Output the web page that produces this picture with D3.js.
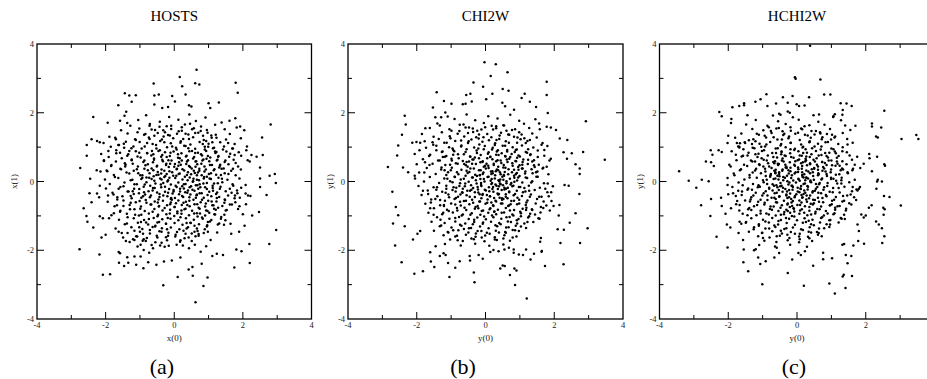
<!DOCTYPE html>
<html>
<head>
<meta charset="utf-8">
<script src="https://cdn.jsdelivr.net/npm/d3@7"></script>
<style>
  html, body { margin: 0; padding: 0; background: #fff; }
  svg { display: block; font-family: 'Liberation Serif', 'Times New Roman', serif; }
</style>
</head>
<body>
<div id="chart"></div>
<script>
// three scatter panels
const titles = ['HOSTS', 'CHI2W', 'HCHI2W'];
const xLabels = ['x(0)', 'y(0)', 'y(0)'];
const yLabels = ['x(1)', 'y(1)', 'y(1)'];
const subLabels = ['(a)', '(b)', '(c)'];
const majorTicks = [-4, -2, 0, 2, 4];
const minorTicks = [-3, -1, 1, 3];

// (a) HOSTS - sparse outer points
const hostsOuter = [
  [0.65,3.25],[0.16,3.04],[-0.60,2.85],[0.61,2.86],[0.73,2.82],[0.23,2.77],[1.79,2.87],[1.85,2.58],[-1.44,2.57],[-1.31,2.50],
  [-1.12,2.51],[-0.58,2.50],[-0.45,2.53],[-0.06,2.49],[0.33,2.53],[-1.63,2.22],[-1.24,2.32],[-0.58,2.24],[-0.35,2.14],[-0.18,2.17],
  [0.02,2.33],[0.43,2.22],[0.50,2.18],[1.00,2.28],[1.05,2.14],[1.30,2.30],[-2.36,1.88],[2.81,1.66],[-1.94,1.71],[-2.74,0.39],
  [-2.55,1.06],[-2.55,0.75],[-2.41,1.23],[-2.45,0.08],[2.93,0.22],[2.78,0.17],[2.58,0.77],[2.56,1.28],[2.50,0.41],[2.04,1.49],
  [2.12,1.02],[1.78,1.84],[1.61,1.77],[1.82,1.57],[1.92,1.60],[1.94,1.26],[2.10,0.91],[2.14,0.62],[2.20,0.58],[2.25,0.77],
  [2.40,0.72],[1.94,0.35],[2.50,0.09],[1.69,0.96],[1.76,0.77],[-2.25,1.18],[-2.17,1.14],[-2.06,1.12],[-2.13,0.80],[-2.05,0.62],
  [-1.89,1.30],[-1.70,1.23],[-1.63,1.06],[-1.92,0.89],[-2.15,0.29],[-2.26,0.33],[-1.95,0.30],[-1.69,0.91],[-1.58,1.77],[-1.45,1.91],
  [-1.37,1.70],[-1.40,2.03],
  [0.62,-3.51],[-0.32,-3.02],[0.85,-3.04],[0.97,-2.79],[0.10,-2.78],[0.54,-2.74],[0.42,-2.56],[0.53,-2.49],[-2.08,-2.71],[-1.87,-2.70],
  [-2.76,-1.97],[-2.18,-2.12],[-1.61,-2.36],[-1.46,-2.46],[-1.34,-2.36],[-1.11,-2.42],[-0.90,-2.52],[-0.76,-2.35],[-0.52,-2.42],[-0.30,-2.33],
  [-0.07,-2.30],[0.18,-2.21],[0.80,-2.39],[1.24,-2.10],[1.42,-2.14],[1.75,-2.50],[1.81,-1.98],[1.96,-2.03],[2.20,-2.37],[2.19,-1.82],
  [2.77,-1.82],[2.97,-1.41],[2.69,-0.39],[2.47,-0.89],[-2.64,-0.78],[-2.56,-1.00],[-2.53,-1.17],[-2.36,-1.34],[-2.12,-1.63],[-2.00,-1.55],
  [-2.17,-1.01],[-2.08,-1.07],[-2.47,-0.34],[-2.41,-0.60],[-2.25,-0.35],[-2.19,-0.46],[-1.62,-2.05],[-1.58,-2.09],[-1.37,-2.20],[-1.16,-2.18],
  [-0.98,-2.18],[-0.89,-1.99],[-0.73,-2.07],[2.09,-0.66],[2.00,-0.95],[2.27,-0.99],[2.05,-1.29],[1.89,-1.46],[1.66,-1.52],[1.64,-1.23],
  [1.90,-0.72],[1.77,-0.41],[2.22,-0.42],[2.15,-0.41],[2.50,-0.16],[2.96,-0.04],[2.08,-0.10],[2.08,-0.35],[-2.17,-0.12],[-1.93,-0.41],
  [-1.90,-1.07],[-1.76,-0.92],[-1.62,-1.46],[-1.53,-1.50],[-1.41,-1.73],[-1.20,-1.68],[-1.16,-1.70],[-1.08,-1.60],[-0.98,-1.84],[-0.83,-1.73],
  [-0.62,-1.94],[-0.41,-1.86],[-0.37,-1.78],[-0.16,-1.87],[0.07,-1.84],[0.43,-1.94],[0.60,-1.84],[0.77,-2.04],[1.11,-2.17],[0.71,-1.53],
  [0.98,-1.46],[1.25,-1.48],[1.45,-1.26],[1.06,-1.70]
];

// (a) HOSTS - core
const hostsCore = [
  [-0.82,1.93],[-0.15,1.88],[0.44,1.95],[0.91,1.86],
  [-1.05,1.79],[-0.42,1.74],[0.12,1.80],[0.63,1.76],[1.38,1.72],
  [-1.28,1.62],[-0.71,1.67],[-0.22,1.61],[0.31,1.66],[0.78,1.60],[1.19,1.65],
  [-1.55,1.49],[-1.02,1.54],[-0.56,1.50],[-0.09,1.53],[0.22,1.48],[0.57,1.55],[0.95,1.50],[1.47,1.52],
  [-1.36,1.40],[-0.88,1.36],[-0.48,1.41],[-0.18,1.35],[0.08,1.39],[0.41,1.37],[0.70,1.42],[1.08,1.34],[1.62,1.38],
  [-1.72,1.27],[-1.14,1.23],[-0.74,1.28],[-0.36,1.22],[-0.03,1.26],[0.26,1.24],[0.55,1.29],[0.86,1.21],[1.23,1.27],[1.51,1.22],
  [-1.47,1.10],[-1.01,1.15],[-0.63,1.09],[-0.29,1.14],[-0.10,1.11],[0.18,1.13],[0.47,1.08],[0.74,1.15],[1.00,1.10],[1.34,1.14],[1.76,1.09],
  [-1.85,1.01],[-1.25,0.97],[-0.86,1.02],[-0.52,0.96],[-0.21,1.00],[0.05,0.98],[0.33,1.03],[0.61,0.95],[0.89,1.01],[1.13,0.97],[1.45,1.02],[1.71,0.96],
  [-1.58,0.84],[-1.12,0.88],[-0.79,0.83],[-0.46,0.89],[-0.27,0.85],[-0.02,0.87],[0.21,0.82],[0.44,0.88],[0.69,0.84],[0.93,0.89],[1.20,0.83],[1.52,0.87],[1.88,0.85],
  [-1.91,0.71],[-1.37,0.75],[-0.98,0.70],[-0.67,0.76],[-0.38,0.72],[-0.13,0.74],[0.11,0.69],[0.36,0.75],[0.58,0.71],[0.81,0.76],[1.05,0.70],[1.29,0.74],[1.60,0.72],[1.95,0.75],
  [-1.70,0.58],[-1.24,0.62],[-0.90,0.57],[-0.59,0.63],[-0.33,0.59],[-0.08,0.61],[0.14,0.56],[0.40,0.62],[0.62,0.58],[0.85,0.64],[1.02,0.59],[1.24,0.61],[1.47,0.57],[1.73,0.63],[-2.05,0.60],
  [-1.84,0.45],[-1.42,0.49],[-1.06,0.44],[-0.77,0.50],[-0.50,0.46],[-0.24,0.48],[0.00,0.43],[0.19,0.49],[0.43,0.45],[0.67,0.50],[0.88,0.44],[1.10,0.48],[1.33,0.46],[1.58,0.50],[1.86,0.44],[-0.12,0.52],
  [-1.97,0.32],[-1.55,0.36],[-1.18,0.31],[-0.87,0.37],[-0.61,0.33],[-0.37,0.35],[-0.14,0.30],[0.07,0.36],[0.29,0.32],[0.51,0.38],[0.73,0.31],[0.92,0.35],[1.15,0.33],[1.38,0.37],[1.66,0.31],[0.40,0.27],[-0.48,0.28],
  [-1.76,0.19],[-1.31,0.23],[-0.99,0.18],[-0.72,0.24],[-0.46,0.20],[-0.22,0.22],[-0.03,0.17],[0.16,0.23],[0.37,0.19],[0.60,0.25],[0.80,0.18],[1.01,0.22],[1.22,0.20],[1.47,0.24],[1.79,0.18],[0.95,0.14],[-0.60,0.15],
  [-2.02,0.06],[-1.63,0.10],[-1.22,0.05],[-0.93,0.11],[-0.66,0.07],[-0.41,0.09],[-0.18,0.04],[0.03,0.10],[0.24,0.06],[0.45,0.12],[0.66,0.05],[0.86,0.09],[1.07,0.07],[1.29,0.11],[1.55,0.05],[1.90,0.09],[-0.29,0.13],[0.55,0.01],
  [-1.88,-0.07],[-1.45,-0.03],[-1.09,-0.08],[-0.81,-0.02],[-0.55,-0.06],[-0.32,-0.04],[-0.10,-0.09],[0.12,-0.03],[0.33,-0.07],[0.54,-0.01],[0.74,-0.08],[0.95,-0.04],[1.16,-0.06],[1.40,-0.02],[1.70,-0.08],[-0.20,0.00],[0.63,-0.11],[-0.70,-0.12],
  [-1.99,-0.20],[-1.57,-0.16],[-1.17,-0.21],[-0.89,-0.15],[-0.62,-0.19],[-0.38,-0.17],[-0.15,-0.22],[0.07,-0.16],[0.28,-0.20],[0.49,-0.14],[0.70,-0.21],[0.90,-0.17],[1.12,-0.19],[1.35,-0.15],[1.62,-0.21],[1.95,-0.18],[-0.02,-0.25],[0.40,-0.26],
  [-1.80,-0.33],[-1.36,-0.29],[-1.03,-0.34],[-0.75,-0.28],[-0.50,-0.32],[-0.27,-0.30],[-0.05,-0.35],[0.17,-0.29],[0.38,-0.33],[0.59,-0.27],[0.80,-0.34],[1.02,-0.30],[1.25,-0.32],[1.50,-0.28],[1.84,-0.34],[-0.85,-0.38],[0.66,-0.38],
  [-1.66,-0.46],[-1.27,-0.42],[-0.96,-0.47],[-0.68,-0.41],[-0.43,-0.45],[-0.20,-0.43],[0.02,-0.48],[0.23,-0.42],[0.44,-0.46],[0.65,-0.40],[0.86,-0.47],[1.08,-0.43],[1.31,-0.45],[1.57,-0.41],[1.91,-0.47],[-0.10,-0.51],
  [-1.94,-0.59],[-1.48,-0.55],[-1.12,-0.60],[-0.83,-0.54],[-0.57,-0.58],[-0.33,-0.56],[-0.10,-0.61],[0.12,-0.55],[0.34,-0.59],[0.56,-0.53],[0.77,-0.60],[0.99,-0.56],[1.23,-0.58],[1.48,-0.54],[1.78,-0.60],
  [-1.74,-0.72],[-1.30,-0.68],[-0.97,-0.73],[-0.69,-0.67],[-0.44,-0.71],[-0.21,-0.69],[0.01,-0.74],[0.22,-0.68],[0.45,-0.72],[0.67,-0.66],[0.90,-0.73],[1.14,-0.69],[1.40,-0.71],[1.68,-0.67],
  [-1.57,-0.85],[-1.16,-0.81],[-0.86,-0.86],[-0.58,-0.80],[-0.34,-0.84],[-0.12,-0.82],[0.09,-0.87],[0.30,-0.81],[0.52,-0.85],[0.74,-0.79],[0.97,-0.86],[1.21,-0.82],[1.50,-0.84],[1.86,-0.80],
  [-1.83,-0.98],[-1.38,-0.94],[-1.03,-0.99],[-0.74,-0.93],[-0.47,-0.97],[-0.23,-0.95],[0.00,-1.00],[0.21,-0.94],[0.43,-0.98],[0.66,-0.92],[0.90,-0.99],[1.17,-0.95],[1.46,-0.97],
  [-1.61,-1.11],[-1.18,-1.07],[-0.88,-1.12],[-0.60,-1.06],[-0.35,-1.10],[-0.11,-1.08],[0.12,-1.13],[0.34,-1.07],[0.57,-1.11],[0.81,-1.05],[1.08,-1.12],[1.36,-1.08],
  [-1.44,-1.24],[-1.06,-1.20],[-0.76,-1.25],[-0.49,-1.19],[-0.24,-1.23],[0.01,-1.21],[0.24,-1.26],[0.47,-1.20],[0.72,-1.24],[0.98,-1.18],[1.27,-1.25],
  [-1.71,-1.37],[-1.25,-1.33],[-0.93,-1.38],[-0.63,-1.32],[-0.36,-1.36],[-0.10,-1.34],[0.15,-1.39],[0.40,-1.33],[0.66,-1.37],[0.95,-1.31],
  [-1.36,-1.50],[-1.00,-1.46],[-0.71,-1.51],[-0.43,-1.45],[-0.17,-1.49],[0.08,-1.47],[0.33,-1.52],[0.59,-1.46],[0.86,-1.50],
  [-1.49,-1.63],[-1.11,-1.59],[-0.80,-1.64],[-0.51,-1.58],[-0.24,-1.62],[0.03,-1.60],[0.30,-1.65],[0.62,-1.59],
  [-1.30,-1.76],[-0.92,-1.72],[-0.55,-1.77],[-0.21,-1.71],[0.17,-1.75],[0.51,-1.73],
  [-1.07,-1.89],[-0.66,-1.85],[-0.28,-1.90],[0.25,-1.86],[0.93,-1.88]
];

// (a) HOSTS - extra points filling the dark centre
const hostsFill = [
  [0.37,0.58],[-0.81,0.12],[1.13,-0.27],[0.05,-0.63],[-0.42,0.91],[0.72,0.04],[-1.24,-0.49],[0.19,1.17],[-0.06,0.27],[0.94,0.66],
  [-0.63,-0.88],[0.48,-1.21],[-1.07,0.73],[1.31,0.41],[-0.27,-0.15],[0.63,-0.47],[-0.88,-0.31],[0.11,0.79],[1.02,-0.91],[-0.51,0.44],
  [0.28,-0.08],[-1.39,0.26],[0.83,1.09],[-0.19,-1.06],[0.57,0.31],[-0.72,1.24],[1.46,-0.62],[-0.35,0.63],[0.14,-0.37],[-0.97,-1.18],
  [0.76,-0.17],[-0.58,0.02],[1.19,0.87],[0.33,-0.79],[-1.16,-0.08],[0.02,0.51],[0.88,0.29],[-0.46,-0.52],[0.41,0.97],[-0.84,0.47],
  [1.27,-0.05],[-0.14,0.11],[0.68,-1.02],[-1.31,0.89],[0.24,0.36],[-0.67,-0.67],[1.04,0.48],[-0.31,1.31],[0.53,-0.24],[-0.93,0.18],
  [0.09,-0.92],[0.97,-0.39],[-0.22,0.71],[0.61,0.83],[-1.48,-0.71],[0.31,0.14],[-0.55,-1.29],[1.36,0.19],[-0.09,-0.48],[0.79,0.52],
  [-0.77,0.33],[0.44,-0.56],[-0.38,0.23],[1.11,1.14],[-1.01,-0.57],[0.17,-0.21],[0.66,0.18],[-0.61,0.79],[0.92,-0.64],[-0.16,0.42],
  [0.36,-1.37],[-1.21,0.52],[0.55,0.67],[-0.43,-0.36],[1.22,-0.36],[0.07,0.93],[-0.86,-0.09],[0.71,-0.76],[-0.28,-0.77],[0.22,0.61],
  [-0.53,1.06],[1.49,0.61],[-0.02,-0.29],[0.85,-0.06],[-1.09,0.36],[0.46,0.42],[-0.71,-0.46],[0.27,-0.62],[1.07,0.24],[-0.37,0.06],
  [0.58,-0.93],[-0.95,0.96],[0.13,0.22],[-0.24,-1.23],[0.98,0.74],[-1.33,-0.29],[0.39,0.04],[-0.62,0.56],[0.74,-0.34],[0.04,-0.12],
  [-0.45,-0.73],[1.16,-0.79],[-0.11,0.84],[0.62,0.43],[-0.99,-0.79],[0.34,0.73],[-0.32,-0.41],[0.89,0.93],[-0.73,0.11],[0.18,-1.04],
  [1.28,0.72],[-0.57,-0.19],[0.49,0.21],[-1.14,-0.97],[0.08,0.37],[0.81,-0.53],[-0.41,1.18],[0.67,-0.11],[-0.87,0.61],[0.26,-0.45],
  [-0.12,-0.66],[1.03,0.09],[-0.66,0.38],[0.43,1.24],[-1.27,0.04],[0.59,-0.66],[-0.23,0.52],[0.95,-0.22],[-0.49,-1.01],[0.16,0.68],
  [0.73,0.37],[-0.81,-0.62],[0.32,-0.31],[-0.06,1.02],[1.24,-0.48],[-0.39,-0.09],[0.52,0.89],[-1.05,0.24],[0.87,0.13],[-0.18,-0.33],
  [0.21,-0.84],[-0.65,0.89],[1.09,-0.58],[-0.29,0.31],[0.64,0.59],[-1.18,-0.36],[0.01,-0.74],[0.78,0.79],[-0.52,0.19],[0.45,-0.17],
  [-0.91,-0.43],[0.29,1.04],[1.17,0.36],[-0.13,-0.93],[0.56,0.08],[-0.74,-1.09],[0.12,0.46],[-0.35,0.77],[0.93,-0.84],[-1.43,0.44],
  [0.69,0.26],[-0.07,-0.53],[0.38,-0.68],[-0.59,0.67],[1.33,-0.21],[-0.26,0.16],[0.82,0.61],[-0.96,0.07],[0.23,-0.14],[-0.48,-0.61],
  [0.99,1.01],[-0.17,0.62],[0.47,-0.38],[-0.79,0.82],[0.06,0.17],[1.12,-0.12],[-0.63,-0.26],[0.35,0.51],[-1.02,-0.22],[0.75,-0.93]
];

// (a) HOSTS - extra points in the ring round the centre
const hostsRing = [
  [1.42,0.93],[-1.53,0.68],[0.96,-1.27],[-0.84,1.38],[1.67,-0.33],[-1.62,-0.21],[0.52,1.52],[-0.18,-1.58],[1.21,1.36],[-1.36,-1.04],
  [1.58,0.22],[-1.12,1.21],[0.27,-1.43],[-0.43,1.59],[1.37,-1.03],[-1.73,0.13],[0.84,1.33],[-0.71,-1.41],[1.79,0.54],[-1.46,0.98],
  [0.13,1.46],[-1.02,-1.33],[1.53,-0.83],[-1.66,-0.52],[0.68,-1.44],[-0.27,1.43],[1.09,1.27],[-1.29,-0.81],[1.72,-0.12],[-0.58,1.33],
  [0.42,-1.63],[-1.57,0.37],[1.26,0.63],[-0.91,-1.52],[0.77,1.47],[-1.19,1.02],[1.63,0.81],[-0.37,-1.46],[1.04,-1.16],[-1.77,-0.38],
  [0.33,1.39],[-0.82,-1.19],[1.47,-0.52],[-1.41,1.16],[0.59,-1.29],[-0.09,1.62],[1.31,-1.22],[-1.58,-0.88],[0.93,1.18],[-1.24,0.64],
  [1.83,-0.26],[-0.66,1.51],[0.18,-1.71],[-1.48,-0.14],[1.16,0.98],[-0.49,-1.63],[1.39,0.08],[-1.07,1.43],[0.71,-1.58],[-1.69,0.82],
  [1.57,1.12],[-0.96,-0.97],[0.46,1.68],[-1.38,-1.22],[1.28,-0.76],[-0.21,-1.39],[1.71,0.37],[-1.61,1.06],[0.83,-1.08],[-0.79,1.12],
  [1.49,-1.13],[-1.27,-0.62],[0.04,-1.55],[-0.56,-1.31],[1.11,-0.69],[-1.83,0.48],[0.61,1.41],[-1.16,-1.43],[1.34,0.49],[-0.32,1.49],
  [0.89,-1.39],[-1.51,-0.43],[1.62,-0.67],[-0.72,1.62],[0.22,1.58],[-1.34,0.79],[1.19,-0.96],[-1.02,0.84],[0.51,-1.51],[-1.67,-0.69],
  [1.44,0.38],[-0.44,-1.18],[0.97,1.42],[-1.21,-0.28],[1.76,-0.49],[-0.13,1.34],[0.36,-1.21],[-0.89,-1.68],[1.23,0.86],[-1.44,0.53]
];

// (b) CHI2W - sparse outer points
const chi2wOuter = [
  [-0.03,3.47],[0.30,3.41],[0.15,3.07],[0.64,3.18],[1.78,2.90],[1.78,2.52],[-0.35,2.88],[-0.07,2.76],[0.02,2.39],[-1.42,2.60],
  [-0.56,2.52],[-0.44,2.55],[0.20,2.55],[0.50,2.69],[0.67,2.64],[1.05,2.43],[1.14,2.55],[1.29,2.32],[-1.21,2.34],[-0.99,2.26],
  [-0.66,2.25],[-0.58,2.26],[-0.40,2.33],[0.49,2.29],[0.57,2.19],[0.83,2.09],[1.47,2.17],[1.81,1.99],[2.92,1.75],[-2.35,1.91],
  [-2.32,1.66],[-2.84,0.42],[-2.57,0.76],[-2.54,1.05],[-2.43,1.36],[3.47,0.63],[2.84,0.86],[2.62,0.50],[2.74,0.22],[2.74,0.38],
  [2.51,0.82],[2.38,1.21],[2.16,1.25],[2.05,1.50],[1.90,1.57],[1.78,1.59],[1.56,1.69],[-2.13,1.13],[-2.01,1.15],[-1.90,1.13],
  [-1.75,1.55],[-1.53,2.15],[-1.46,1.87],[-1.29,1.87],[-1.17,2.01],[-1.33,1.63],[-1.73,0.98],[-2.06,0.80],[-2.40,0.41],[-2.25,0.27],
  [-2.06,0.17],[2.37,0.66],[2.27,0.85],
  [1.20,-3.40],[0.86,-3.01],[0.71,-2.72],[0.43,-2.53],[0.50,-2.44],[0.56,-2.46],[0.84,-2.53],[0.90,-2.59],[-0.32,-2.93],[-0.34,-2.65],
  [-1.05,-2.78],[-1.82,-2.61],[-2.07,-2.68],[-2.44,-2.35],[-2.63,-1.86],[-2.69,-1.22],[-2.54,-0.98],[-2.61,-0.74],[-2.71,-0.30],[-2.35,-1.30],
  [-2.11,-1.69],[-1.98,-1.52],[-1.90,-1.44],[-1.61,-2.06],[-1.59,-2.33],[-1.49,-2.49],[2.97,-1.36],[2.75,-1.79],[2.27,-2.41],[1.73,-2.46],
  [2.18,-1.79],[1.63,-2.04],[1.41,-2.10],[1.31,-2.27],[1.09,-2.14],[1.18,-1.98],[2.45,-1.20],[2.62,-0.92],[2.73,-0.36],[2.30,-0.10],
  [2.42,-0.12],[-1.45,-1.88],[-1.33,-2.17],[-1.22,-2.09],[-1.16,-2.14],[-1.09,-2.37],[-0.88,-2.51],[-0.75,-2.32],[2.10,-1.39],[2.28,-1.40],
  [2.13,-0.99],[2.15,-0.68],[1.98,-0.71],[1.87,-0.84],[1.61,-1.64],[1.59,-1.75],[1.64,-2.02],[0.14,-2.05],[0.23,-1.99],[0.38,-2.03],
  [0.55,-1.98],[0.68,-1.93],[0.82,-1.98],[0.82,-2.07],[0.97,-2.12],[-0.46,-2.17],[-0.45,-2.30],[-0.08,-2.25],[-0.20,-2.14]
];

// (b) CHI2W - core
const chi2wCore = [
  [-0.55,1.95],[0.08,1.90],[0.72,1.94],[-1.10,1.89],
  [-0.90,1.82],[-0.30,1.78],[0.35,1.83],[0.98,1.77],[1.45,1.81],
  [-1.40,1.69],[-0.75,1.65],[-0.05,1.70],[0.52,1.64],[1.12,1.68],[0.18,1.62],
  [-1.62,1.56],[-1.05,1.52],[-0.48,1.57],[-0.12,1.51],[0.31,1.55],[0.77,1.50],[1.27,1.56],[1.58,1.52],
  [-1.27,1.43],[-0.81,1.39],[-0.36,1.44],[0.05,1.38],[0.45,1.42],[0.66,1.37],[0.98,1.43],[1.36,1.40],[-1.85,1.38],
  [-1.51,1.30],[-1.02,1.26],[-0.62,1.31],[-0.20,1.25],[0.17,1.29],[0.40,1.24],[0.83,1.30],[1.13,1.26],[1.49,1.28],[-0.41,1.22],
  [-1.77,1.17],[-1.20,1.13],[-0.88,1.18],[-0.51,1.12],[-0.09,1.16],[0.28,1.11],[0.59,1.17],[0.92,1.13],[1.22,1.18],[1.66,1.12],[0.10,1.20],
  [-1.43,1.04],[-1.06,1.00],[-0.70,1.05],[-0.33,0.99],[-0.02,1.03],[0.21,0.98],[0.50,1.04],[0.79,1.00],[1.06,1.05],[1.39,0.99],[1.80,1.03],[-0.18,1.08],
  [-1.92,0.91],[-1.25,0.87],[-0.94,0.92],[-0.58,0.86],[-0.26,0.90],[0.09,0.85],[0.36,0.91],[0.63,0.87],[0.88,0.92],[1.17,0.86],[1.52,0.90],[-0.05,0.94],[0.47,0.82],
  [-1.61,0.78],[-1.14,0.74],[-0.80,0.79],[-0.45,0.73],[-0.14,0.77],[0.14,0.72],[0.31,0.78],[0.57,0.74],[0.76,0.80],[1.00,0.73],[1.30,0.77],[1.71,0.75],[-0.31,0.70],[0.92,0.69],
  [-1.82,0.65],[-1.33,0.61],[-0.99,0.66],[-0.66,0.60],[-0.38,0.64],[-0.08,0.59],[0.20,0.65],[0.44,0.61],[0.69,0.66],[0.87,0.60],[1.10,0.64],[1.41,0.62],[1.90,0.66],[0.05,0.68],[-0.55,0.57],
  [-1.54,0.52],[-1.17,0.48],[-0.86,0.53],[-0.57,0.47],[-0.28,0.51],[-0.01,0.46],[0.24,0.52],[0.53,0.48],[0.78,0.53],[0.99,0.47],[1.23,0.51],[1.55,0.49],[-2.00,0.50],[0.37,0.43],[-0.15,0.56],[0.64,0.57],
  [-1.71,0.39],[-1.29,0.35],[-0.98,0.40],[-0.70,0.34],[-0.44,0.38],[-0.19,0.33],[0.09,0.39],[0.33,0.35],[0.58,0.40],[0.83,0.34],[1.08,0.38],[1.34,0.36],[1.68,0.40],[0.20,0.30],[-0.55,0.31],[0.95,0.42],[-0.05,0.43],
  [-1.93,0.26],[-1.45,0.22],[-1.09,0.27],[-0.79,0.21],[-0.52,0.25],[-0.30,0.20],[-0.06,0.26],[0.17,0.22],[0.42,0.27],[0.66,0.21],[0.91,0.25],[1.15,0.23],[1.47,0.27],[1.83,0.21],[0.54,0.17],[-0.17,0.18],[0.30,0.30],
  [-1.62,0.13],[-1.20,0.09],[-0.90,0.14],[-0.63,0.08],[-0.39,0.12],[-0.15,0.07],[0.06,0.13],[0.27,0.09],[0.49,0.14],[0.71,0.08],[0.95,0.12],[1.21,0.10],[1.52,0.14],[-2.05,0.09],[0.38,0.04],[-0.25,0.16],[0.83,0.17],[0.15,0.02],
  [-1.79,0.00],[-1.35,-0.04],[-1.03,0.01],[-0.74,-0.05],[-0.49,-0.01],[-0.26,-0.06],[-0.03,0.00],[0.19,-0.04],[0.40,0.01],[0.61,-0.05],[0.84,-0.01],[1.07,-0.03],[1.36,0.01],[1.70,-0.05],[0.29,-0.09],[-0.13,-0.10],[0.52,0.05],[0.73,-0.09],
  [-1.95,-0.13],[-1.51,-0.17],[-1.14,-0.12],[-0.85,-0.18],[-0.60,-0.14],[-0.36,-0.19],[-0.12,-0.13],[0.10,-0.17],[0.32,-0.12],[0.55,-0.18],[0.78,-0.14],[1.01,-0.16],[1.26,-0.12],[1.58,-0.18],[1.96,-0.14],[0.20,-0.22],[-0.22,-0.23],[0.44,-0.08],
  [-1.68,-0.26],[-1.26,-0.30],[-0.96,-0.25],[-0.68,-0.31],[-0.45,-0.27],[-0.21,-0.32],[0.01,-0.26],[0.23,-0.30],[0.47,-0.25],[0.69,-0.31],[0.91,-0.27],[1.16,-0.29],[1.43,-0.25],[1.80,-0.31],[0.35,-0.35],[-0.08,-0.36],[0.60,-0.21],
  [-1.86,-0.39],[-1.40,-0.43],[-1.08,-0.38],[-0.80,-0.44],[-0.55,-0.40],[-0.31,-0.45],[-0.09,-0.39],[0.13,-0.43],[0.37,-0.38],[0.59,-0.44],[0.82,-0.40],[1.06,-0.42],[1.32,-0.38],[1.63,-0.44],[0.25,-0.48],[0.48,-0.49],
  [-1.58,-0.52],[-1.18,-0.56],[-0.90,-0.51],[-0.63,-0.57],[-0.39,-0.53],[-0.16,-0.58],[0.06,-0.52],[0.29,-0.56],[0.52,-0.51],[0.75,-0.57],[0.98,-0.53],[1.22,-0.55],[1.50,-0.51],[1.92,-0.57],[0.17,-0.61],
  [-1.75,-0.65],[-1.32,-0.69],[-1.00,-0.64],[-0.72,-0.70],[-0.47,-0.66],[-0.23,-0.71],[0.00,-0.65],[0.22,-0.69],[0.45,-0.64],[0.68,-0.70],[0.92,-0.66],[1.17,-0.68],[1.46,-0.64],[1.77,-0.70],
  [-1.50,-0.78],[-1.12,-0.82],[-0.83,-0.77],[-0.56,-0.83],[-0.31,-0.79],[-0.07,-0.84],[0.14,-0.78],[0.36,-0.82],[0.59,-0.77],[0.83,-0.83],[1.08,-0.79],[1.35,-0.81],[1.68,-0.77],[0.25,-0.88],
  [-1.66,-0.91],[-1.26,-0.95],[-0.95,-0.90],[-0.66,-0.96],[-0.40,-0.92],[-0.15,-0.97],[0.08,-0.91],[0.31,-0.95],[0.54,-0.90],[0.78,-0.96],[1.03,-0.92],[1.30,-0.94],[1.60,-0.90],
  [-1.41,-1.04],[-1.05,-1.08],[-0.77,-1.03],[-0.49,-1.09],[-0.24,-1.05],[0.01,-1.10],[0.23,-1.04],[0.46,-1.08],[0.70,-1.03],[0.96,-1.09],[1.24,-1.05],[1.54,-1.07],
  [-1.57,-1.17],[-1.19,-1.21],[-0.88,-1.16],[-0.59,-1.22],[-0.33,-1.18],[-0.08,-1.23],[0.16,-1.17],[0.40,-1.21],[0.65,-1.16],[0.92,-1.22],[1.22,-1.18],
  [-1.33,-1.30],[-0.99,-1.34],[-0.70,-1.29],[-0.42,-1.35],[-0.16,-1.31],[0.09,-1.36],[0.34,-1.30],[0.60,-1.34],[0.88,-1.29],[1.18,-1.35],
  [-1.50,-1.43],[-1.10,-1.47],[-0.79,-1.42],[-0.50,-1.48],[-0.23,-1.44],[0.04,-1.49],[0.30,-1.43],[0.57,-1.47],[0.86,-1.42],
  [-1.22,-1.56],[-0.88,-1.60],[-0.57,-1.55],[-0.29,-1.61],[-0.01,-1.57],[0.27,-1.62],[0.55,-1.56],[0.90,-1.60],
  [-1.03,-1.69],[-0.66,-1.73],[-0.34,-1.68],[-0.03,-1.74],[0.33,-1.70],[0.71,-1.72],
  [-1.18,-1.82],[-0.72,-1.86],[-0.30,-1.81],[0.11,-1.87],[0.52,-1.83]
];

// (b) CHI2W - extra points filling the dark centre
const chi2wFill = [
  [0.44,0.21],[-0.73,-0.38],[1.08,0.57],[0.12,-0.81],[-0.35,0.64],[0.81,-0.12],[-1.19,0.33],[0.27,1.06],[-0.02,-0.24],[0.66,-0.71],
  [-0.58,0.17],[1.29,-0.44],[-0.91,0.88],[0.39,-0.36],[0.03,0.52],[0.96,0.34],[-0.44,-0.97],[0.58,0.73],[-1.32,-0.54],[0.18,0.07],
  [0.74,-1.18],[-0.21,0.96],[1.17,0.12],[-0.66,-0.21],[0.31,-0.58],[-0.96,-0.02],[0.85,0.86],[-0.12,-0.49],[0.52,0.41],[-0.49,1.17],
  [1.41,0.47],[-0.29,-0.74],[0.16,0.29],[0.93,-0.47],[-0.81,0.52],[0.61,0.01],[-1.07,-0.86],[0.07,0.81],[0.69,-0.29],[-0.37,0.12],
  [1.01,-0.88],[-0.57,-0.56],[0.35,0.62],[-1.24,0.71],[0.22,-0.16],[0.89,0.59],[-0.14,0.33],[0.47,-0.91],[-0.76,-0.13],[1.21,0.84],
  [-0.04,-1.02],[0.77,0.27],[-0.52,0.43],[0.29,-1.27],[-0.88,-0.67],[1.13,-0.19],[0.09,0.14],[-0.31,-0.31],[0.57,1.04],[-1.11,0.08],
  [0.42,-0.06],[-0.63,0.79],[0.98,-0.64],[-0.19,0.68],[0.64,-0.49],[-1.41,-0.17],[0.13,-0.43],[0.84,0.11],[-0.42,-0.11],[0.33,0.87],
  [-0.83,0.27],[1.33,-0.03],[-0.08,0.22],[0.55,-0.23],[-0.69,-0.99],[0.24,0.48],[1.06,0.38],[-0.27,1.29],[0.71,-0.84],[-0.98,0.61],
  [0.05,-0.62],[0.92,0.03],[-0.46,-0.44],[0.37,0.33],[-1.16,-0.33],[0.62,0.64],[-0.23,-0.16],[1.19,-0.61],[-0.55,0.94],[0.19,-0.99],
  [0.79,0.46],[-0.72,0.06],[0.49,-0.64],[-0.11,-0.86],[1.37,0.24],[-0.86,-0.48],[0.28,0.18],[-0.39,0.52],[0.86,-0.36],[0.01,0.38],
  [-1.28,0.41],[0.68,1.13],[-0.61,-0.76],[0.41,-0.47],[0.96,0.76],[-0.17,-0.37],[0.53,0.19],[-0.93,-0.17],[0.14,0.71],[1.09,-0.31],
  [-0.33,-1.11],[0.75,-0.04],[-0.78,0.68],[0.36,-0.22],[-0.05,0.07],[1.24,0.63],[-0.47,0.28],[0.61,-1.04],[-1.03,0.49],[0.23,-0.71],
  [0.88,0.21],[-0.25,0.83],[0.46,0.54],[-0.67,-0.33],[1.03,-1.01],[0.11,-0.28],[-0.89,0.13],[0.67,0.36],[-0.36,-0.62],[0.32,1.21],
  [-1.21,-0.71],[0.83,-0.56],[-0.09,0.57],[0.51,-0.11],[-0.59,-0.06],[1.16,0.29],[0.19,0.93],[-0.74,-0.59],[0.43,0.06],[-0.18,-0.58],
  [0.97,-0.16],[-0.44,0.72],[0.26,-0.87],[-1.01,0.33],[0.72,0.71],[-0.28,0.04],[0.59,-0.37],[-0.82,-0.84],[0.08,0.46],[1.27,-0.27],
  [-0.53,-0.27],[0.38,0.77],[-0.13,-0.04],[0.81,-0.99],[-0.94,0.78],[0.21,0.24],[0.65,-0.18],[-0.62,0.51],[1.07,0.49],[-0.21,-0.78],
  [0.48,-0.53],[-1.14,0.19],[0.17,-0.07],[0.91,0.93],[-0.41,-0.24],[0.56,0.28],[-0.71,1.02],[1.18,-0.83],[0.04,-0.39],[-0.34,0.38],
  [0.73,-0.66],[-0.87,-0.29],[0.31,0.59],[-0.07,-1.19],[0.99,0.16],[-0.48,0.58],[0.39,-0.14],[-1.06,-0.46],[0.63,0.92],[-0.16,0.19]
];

// (b) CHI2W - extra points in the ring round the centre
const chi2wRing = [
  [1.52,0.71],[-1.43,0.91],[1.03,-1.31],[-0.76,1.47],[1.74,-0.21],[-1.67,-0.36],[0.61,1.48],[-0.11,-1.63],[1.29,1.21],[-1.31,-1.11],
  [1.66,0.38],[-1.04,1.32],[0.39,-1.48],[-0.37,1.54],[1.44,-0.96],[-1.78,0.26],[0.93,1.28],[-0.63,-1.38],[1.86,0.61],[-1.52,1.07],
  [0.22,1.51],[-0.94,-1.42],[1.61,-0.74],[-1.59,-0.61],[0.79,-1.41],[-0.19,1.37],[1.17,1.12],[-1.23,-0.91],[1.81,-0.06],[-0.51,1.41],
  [0.52,-1.66],[-1.63,0.48],[1.36,0.58],[-0.83,-1.58],[0.86,1.52],[-1.13,1.13],[1.71,0.92],[-0.28,-1.51],[1.13,-1.22],[-1.82,-0.27],
  [0.41,1.34],[-0.74,-1.26],[1.56,-0.44],[-1.36,1.24],[0.67,-1.33],[-0.01,1.58],[1.39,-1.18],[-1.51,-0.97],[1.02,1.23],[-1.18,0.72],
  [1.91,-0.31],[-0.58,1.57],[0.27,-1.69],[-1.43,-0.24],[1.24,0.94],[-0.41,-1.66],[1.48,0.14],[-0.99,1.48],[0.79,-1.63],[-1.64,0.74],
  [1.63,1.07],[-0.88,-1.06],[0.54,1.63],[-1.29,-1.28],[1.36,-0.83],[-0.12,-1.44],[1.78,0.43],[-1.54,1.14],[0.91,-1.13],[-0.71,1.19],
  [1.57,-1.08],[-1.21,-0.68],[0.12,-1.52],[-0.48,-1.36],[1.19,-0.76],[-1.76,0.56],[0.69,1.36],[-1.08,-1.48],[1.43,0.42],[-0.24,1.48],
  [0.97,-1.44],[-1.46,-0.51],[1.69,-0.58],[-0.64,1.66],[0.31,1.61],[-1.27,0.86],[1.27,-1.01],[-0.96,0.96],[0.59,-1.49],[-1.61,-0.78],
  [1.51,0.29],[-0.37,-1.24],[1.05,1.37],[-1.14,-0.21],[1.84,-0.43],[-0.06,1.29],[0.44,-1.24],[-0.81,-1.71],[1.31,0.79],[-1.38,0.61]
];

// (c) HCHI2W - sparse outer points
const hchi2wOuter = [
  [0.38,3.95],[-0.06,3.03],[-0.04,2.99],[0.68,2.97],[0.79,2.53],[0.97,2.53],[-0.89,2.54],[-1.06,2.39],[-0.41,2.45],[-0.13,2.49],
  [0.35,2.45],[-1.54,2.28],[-1.54,2.22],[-1.68,2.20],[-1.88,2.16],[-1.21,2.32],[-0.86,2.20],[-0.61,2.27],[-0.27,2.29],[-0.01,2.25],
  [0.06,2.20],[0.22,2.21],[1.27,2.28],[1.44,2.27],[1.59,2.20],[1.33,2.08],[1.32,1.94],[1.10,1.96],[1.06,1.90],[2.54,2.06],
  [-2.26,2.02],[-2.19,1.90],[-1.91,1.82],[-1.92,1.70],[-1.44,1.93],[-0.52,1.97],[-0.48,1.94],[-0.27,2.04],[-0.21,2.00],[0.64,1.95],
  [1.70,1.62],[2.18,1.69],[2.18,1.60],[2.45,1.57],[2.30,1.31],[2.35,1.28],[3.04,1.24],[3.47,1.35],[3.53,1.24],[-2.00,1.33],
  [-2.02,1.12],[-2.51,0.91],[-2.46,0.78],[-2.28,0.91],[-2.19,0.86],[-2.65,0.58],[-2.50,0.56],[-2.42,0.45],[-3.43,0.30],[-3.15,0.02],
  [-2.77,0.05],[-2.57,0.01],[2.10,0.80],[2.11,0.68],[2.33,0.72],[2.54,0.50],[2.56,0.46],[1.94,0.52],[1.84,0.39],[2.18,0.30],
  [2.35,0.05],[-1.75,1.12],[-1.68,0.99],[-1.66,1.11],[-1.40,1.20],[-1.31,1.09],
  [1.10,-3.26],[0.94,-2.97],[0.20,-3.03],[-1.01,-2.99],[1.41,-3.10],[1.33,-2.76],[1.36,-2.71],[1.60,-2.75],[-0.27,-2.66],[-1.42,-2.61],
  [-1.56,-2.35],[-2.02,-1.92],[-2.34,-1.61],[-2.52,-1.00],[-2.79,-0.69],[-2.50,-0.51],[-2.93,-0.18],[-2.21,-0.47],[-2.19,-0.71],[-2.02,-0.10],
  [-2.00,-0.37],[-2.08,-0.94],[-1.92,-0.78],[-2.04,-1.25],[-1.94,-1.34],[-1.67,-1.17],[-1.62,-1.23],[-1.70,-1.50],[-1.57,-1.70],[-1.55,-1.98],
  [-1.25,-2.00],[-1.20,-1.97],[-1.13,-2.21],[-1.07,-2.40],[-0.91,-2.32],[-0.66,-2.21],[-0.52,-2.08],[-0.59,-1.93],[-0.14,-2.27],[0.04,-2.08],
  [0.11,-2.14],[0.23,-2.03],[0.47,-2.45],[0.76,-2.07],[0.76,-2.26],[1.02,-2.23],[1.42,-2.14],[1.47,-2.38],[1.58,-2.17],[1.32,-1.84],
  [1.37,-1.82],[1.64,-1.86],[1.78,-1.73],[1.95,-1.81],[2.48,-1.79],[2.54,-1.59],[2.30,-1.16],[2.38,-1.25],[2.47,-1.36],[2.52,-0.97],
  [2.55,-0.81],[2.51,-0.76],[3.02,-0.70],[2.69,-0.45],[2.53,-0.42],[2.31,-0.21],[2.17,-0.69],[2.09,-0.76],[2.00,-0.99],[1.94,-1.05],
  [1.87,-0.96],[1.76,-1.25],[1.80,-1.44],[2.47,0.00],[2.33,0.00],[1.83,-0.16],[1.76,-0.26]
];

// (c) HCHI2W - core
const hchi2wCore = [
  [-0.70,1.92],[-0.12,1.87],[0.48,1.93],[1.05,1.88],
  [-1.20,1.79],[-0.55,1.75],[0.05,1.80],[0.62,1.74],[1.28,1.78],
  [-1.48,1.66],[-0.86,1.62],[-0.33,1.67],[0.22,1.61],[0.80,1.65],[1.40,1.63],
  [-1.30,1.53],[-0.98,1.49],[-0.60,1.54],[-0.18,1.48],[0.15,1.52],[0.55,1.47],[0.96,1.53],[1.55,1.50],
  [-1.62,1.40],[-1.11,1.36],[-0.74,1.41],[-0.40,1.35],[-0.05,1.39],[0.31,1.34],[0.68,1.40],[1.02,1.36],[1.33,1.41],
  [-1.80,1.27],[-1.27,1.23],[-0.90,1.28],[-0.57,1.22],[-0.25,1.26],[0.08,1.21],[0.40,1.27],[0.72,1.23],[1.09,1.28],[1.46,1.24],
  [-1.52,1.14],[-1.09,1.10],[-0.78,1.15],[-0.46,1.09],[-0.18,1.13],[0.12,1.08],[0.36,1.14],[0.61,1.10],[0.90,1.15],[1.20,1.09],[1.62,1.13],
  [-1.68,1.01],[-1.24,0.97],[-0.93,1.02],[-0.62,0.96],[-0.33,1.00],[-0.06,0.95],[0.18,1.01],[0.44,0.97],[0.71,1.02],[1.00,0.96],[1.33,1.00],[-0.48,1.05],
  [-1.90,0.88],[-1.41,0.84],[-1.02,0.89],[-0.72,0.83],[-0.45,0.87],[-0.20,0.82],[0.04,0.88],[0.29,0.84],[0.55,0.89],[0.82,0.83],[1.10,0.87],[1.45,0.85],[-0.08,0.92],
  [-1.57,0.75],[-1.15,0.71],[-0.85,0.76],[-0.58,0.70],[-0.33,0.74],[-0.10,0.69],[0.14,0.75],[0.37,0.71],[0.63,0.76],[0.90,0.70],[1.21,0.74],[1.75,0.72],[-0.46,0.79],[0.25,0.66],
  [-1.76,0.62],[-1.30,0.58],[-0.97,0.63],[-0.69,0.57],[-0.44,0.61],[-0.21,0.56],[0.02,0.62],[0.24,0.58],[0.48,0.63],[0.73,0.57],[1.00,0.61],[1.32,0.59],[1.60,0.63],[-0.56,0.52],[0.12,0.53],
  [-1.97,0.49],[-1.45,0.45],[-1.10,0.50],[-0.81,0.44],[-0.55,0.48],[-0.31,0.43],[-0.08,0.49],[0.15,0.45],[0.38,0.50],[0.61,0.44],[0.86,0.48],[1.12,0.46],[1.44,0.50],[-0.19,0.40],[0.50,0.39],[-0.66,0.53],
  [-1.63,0.36],[-1.22,0.32],[-0.93,0.37],[-0.66,0.31],[-0.42,0.35],[-0.19,0.30],[0.04,0.36],[0.27,0.32],[0.50,0.37],[0.74,0.31],[0.99,0.35],[1.27,0.33],[1.63,0.37],[-0.30,0.39],[0.15,0.27],[-0.52,0.27],[0.62,0.24],
  [-1.84,0.23],[-1.38,0.19],[-1.05,0.24],[-0.77,0.18],[-0.52,0.22],[-0.29,0.17],[-0.07,0.23],[0.15,0.19],[0.38,0.24],[0.61,0.18],[0.86,0.22],[1.13,0.20],[1.48,0.24],[-0.40,0.13],[0.03,0.28],[0.27,0.12],[-0.63,0.27],
  [-2.02,0.10],[-1.53,0.06],[-1.17,0.11],[-0.88,0.05],[-0.63,0.09],[-0.40,0.04],[-0.17,0.10],[0.05,0.06],[0.27,0.11],[0.49,0.05],[0.73,0.09],[0.99,0.07],[1.30,0.11],[1.68,0.05],[-0.28,0.01],[0.16,0.14],[-0.51,0.15],[0.39,-0.01],
  [-1.70,-0.03],[-1.28,-0.07],[-0.97,-0.02],[-0.71,-0.08],[-0.48,-0.04],[-0.25,-0.09],[-0.03,-0.03],[0.19,-0.07],[0.41,-0.02],[0.64,-0.08],[0.89,-0.04],[1.17,-0.06],[1.52,-0.02],[-0.14,-0.12],[0.30,-0.13],[-0.60,-0.11],[0.08,0.02],
  [-1.88,-0.16],[-1.42,-0.20],[-1.08,-0.15],[-0.81,-0.21],[-0.57,-0.17],[-0.34,-0.22],[-0.12,-0.16],[0.10,-0.20],[0.32,-0.15],[0.55,-0.21],[0.79,-0.17],[1.05,-0.19],[1.38,-0.15],[1.80,-0.21],[-0.23,-0.25],[0.21,-0.26],[-0.45,-0.12],
  [-1.60,-0.29],[-1.20,-0.33],[-0.91,-0.28],[-0.65,-0.34],[-0.42,-0.30],[-0.20,-0.35],[0.02,-0.29],[0.24,-0.33],[0.46,-0.28],[0.70,-0.34],[0.95,-0.30],[1.24,-0.32],[1.60,-0.28],[-0.31,-0.38],[0.13,-0.39],[-0.53,-0.25],
  [-1.78,-0.42],[-1.33,-0.46],[-1.01,-0.41],[-0.74,-0.47],[-0.51,-0.43],[-0.28,-0.48],[-0.06,-0.42],[0.16,-0.46],[0.38,-0.41],[0.61,-0.47],[0.86,-0.43],[1.13,-0.45],[1.46,-0.41],[-0.17,-0.51],[0.27,-0.52],[-0.62,-0.51],
  [-1.51,-0.55],[-1.13,-0.59],[-0.86,-0.54],[-0.61,-0.60],[-0.38,-0.56],[-0.16,-0.61],[0.07,-0.55],[0.29,-0.59],[0.52,-0.54],[0.76,-0.60],[1.02,-0.56],[1.32,-0.58],[1.72,-0.54],[-0.27,-0.64],[0.40,-0.65],
  [-1.67,-0.68],[-1.25,-0.72],[-0.95,-0.67],[-0.68,-0.73],[-0.44,-0.69],[-0.21,-0.74],[0.01,-0.68],[0.23,-0.72],[0.46,-0.67],[0.70,-0.73],[0.96,-0.69],[1.24,-0.71],[1.58,-0.67],[-0.10,-0.78],
  [-1.42,-0.81],[-1.06,-0.85],[-0.79,-0.80],[-0.54,-0.86],[-0.31,-0.82],[-0.08,-0.87],[0.14,-0.81],[0.36,-0.85],[0.59,-0.80],[0.84,-0.86],[1.11,-0.82],[1.42,-0.84],[-0.20,-0.91],
  [-1.58,-0.94],[-1.18,-0.98],[-0.89,-0.93],[-0.62,-0.99],[-0.38,-0.95],[-0.15,-1.00],[0.07,-0.94],[0.30,-0.98],[0.53,-0.93],[0.78,-0.99],[1.06,-0.95],[1.37,-0.97],
  [-1.33,-1.07],[-0.99,-1.11],[-0.72,-1.06],[-0.47,-1.12],[-0.23,-1.08],[0.00,-1.13],[0.22,-1.07],[0.45,-1.11],[0.70,-1.06],[0.97,-1.12],[1.30,-1.08],
  [-1.49,-1.20],[-1.11,-1.24],[-0.82,-1.19],[-0.55,-1.25],[-0.30,-1.21],[-0.06,-1.26],[0.17,-1.20],[0.41,-1.24],[0.67,-1.19],[0.96,-1.25],
  [-1.25,-1.33],[-0.92,-1.37],[-0.63,-1.32],[-0.37,-1.38],[-0.12,-1.34],[0.12,-1.39],[0.37,-1.33],[0.64,-1.37],[0.94,-1.32],
  [-1.40,-1.46],[-1.02,-1.50],[-0.72,-1.45],[-0.44,-1.51],[-0.18,-1.47],[0.08,-1.52],[0.34,-1.46],[0.63,-1.50],
  [-1.13,-1.59],[-0.80,-1.63],[-0.50,-1.58],[-0.22,-1.64],[0.06,-1.60],[0.36,-1.65],[0.72,-1.59],
  [-0.95,-1.72],[-0.60,-1.76],[-0.27,-1.71],[0.06,-1.77],[0.44,-1.73],
  [-1.10,-1.85],[-0.64,-1.89],[-0.20,-1.84],[0.29,-1.90]
];

// (c) HCHI2W - extra points filling the dark centre
const hchi2wFill = [
  [-0.33,0.41],[0.52,-0.27],[-0.91,0.16],[0.18,0.83],[-0.12,-0.57],[0.79,0.38],[-1.27,-0.41],[0.04,0.08],[-0.56,0.97],[0.96,-0.69],
  [-0.41,-0.18],[0.33,0.29],[-1.03,0.68],[0.66,-0.04],[-0.19,1.12],[0.21,-0.91],[-0.77,-0.73],[1.18,0.52],[-0.06,0.46],[0.47,-0.53],
  [-0.63,0.24],[0.11,-0.22],[-1.38,0.12],[0.71,0.77],[-0.27,-0.86],[0.39,0.03],[-0.84,0.53],[1.04,-0.31],[-0.15,0.18],[0.26,0.62],
  [-0.52,-0.44],[0.87,0.16],[-1.12,-0.11],[0.09,-0.68],[-0.36,0.76],[0.58,0.49],[-0.71,-0.26],[1.29,-0.06],[-0.02,-0.37],[0.34,-1.14],
  [-0.96,0.91],[0.63,0.21],[-0.22,-0.03],[0.14,0.37],[-0.47,-0.97],[0.92,0.61],[-1.19,0.37],[0.28,-0.41],[-0.68,0.07],[0.51,1.02],
  [-0.09,-0.79],[0.74,-0.48],[-0.39,0.58],[-1.33,-0.83],[0.19,0.12],[0.98,0.27],[-0.58,-0.61],[0.42,0.79],[-0.87,-0.07],[0.06,0.64],
  [1.11,-0.76],[-0.25,0.33],[0.59,-0.16],[-1.06,-0.53],[0.23,-0.06],[-0.44,1.22],[0.81,0.54],[-0.74,0.39],[0.36,-0.74],[-0.13,-0.24],
  [1.23,0.21],[-0.99,0.04],[0.15,-0.47],[-0.31,-0.41],[0.69,0.93],[-0.61,0.83],[0.47,0.16],[-1.21,0.79],[-0.04,0.27],[0.88,-0.13],
  [-0.49,-0.14],[0.29,0.47],[-0.82,-0.96],[1.06,0.08],[-0.17,0.71],[0.54,-0.88],[-1.44,-0.24],[0.12,-0.13],[-0.35,0.11],[0.76,0.42],
  [-0.66,-0.47],[0.37,1.17],[-0.92,0.29],[0.64,-0.59],[-0.08,-1.02],[1.34,-0.42],[-0.53,0.51],[0.21,0.21],[-1.09,0.48],[0.45,-0.32],
  [-0.28,-0.67],[0.94,0.84],[-0.78,0.14],[0.07,-0.31],[-0.43,0.31],[0.61,0.34],[-1.16,-0.68],[0.31,-0.23],[-0.19,0.94],[0.84,-0.39],
  [-0.59,-0.33],[0.17,0.56],[-0.97,-0.34],[1.16,0.69],[-0.11,0.03],[0.49,-0.63],[-0.69,0.71],[0.25,0.94],[-1.29,0.26],[0.71,0.06],
  [-0.37,-0.89],[0.03,0.41],[0.89,-0.93],[-0.81,-0.18],[0.38,0.53],[-0.23,-0.46],[1.02,0.47],[-0.54,0.06],[0.13,-0.61],[-1.04,1.01],
  [0.57,0.68],[-0.16,-0.12],[0.77,-0.24],[-0.73,-0.82],[0.32,0.09],[-0.45,0.86],[1.21,-0.19],[-0.88,0.61],[0.08,0.76],[-0.29,-0.29],
  [0.66,-0.81],[-1.14,-0.17],[0.43,0.36],[-0.62,0.34],[0.19,-0.36],[0.99,0.11],[-0.34,0.49],[0.55,-0.07],[-0.94,-0.62],[-0.05,0.59],
  [1.31,0.38],[-0.48,-0.76],[0.27,0.73],[-0.76,0.22],[0.83,0.29],[-0.14,-0.71],[0.41,-0.96],[-1.22,0.58],[0.02,-0.18],[0.73,0.57],
  [-0.57,0.17],[0.16,0.99],[-0.86,-0.41],[1.08,-0.53],[-0.24,0.23],[0.46,0.27],[-0.67,-0.12],[0.35,-0.49],[-1.35,-0.52],[0.86,0.74],
  [-0.07,-0.46],[-0.42,0.67],[0.62,-0.33],[-0.98,0.44],[0.24,0.04],[-0.32,-1.06],[1.14,0.02],[-0.64,0.59],[0.09,-0.84],[0.52,0.58]
];

// (c) HCHI2W - extra points in the ring round the centre
const hchi2wRing = [
  [1.32,0.88],[-1.61,0.73],[0.86,-1.24],[-0.94,1.33],[1.56,-0.38],[-1.71,-0.27],[0.42,1.47],[-0.28,-1.55],[1.11,1.31],[-1.44,-0.98],
  [1.47,0.27],[-1.21,1.17],[0.17,-1.41],[-0.53,1.56],[1.27,-1.06],[-1.82,0.18],[0.74,1.29],[-0.81,-1.37],[1.68,0.49],[-1.56,0.94],
  [0.03,1.42],[-1.11,-1.29],[1.43,-0.79],[-1.74,-0.57],[0.58,-1.47],[-0.37,1.39],[0.99,1.22],[-1.39,-0.77],[1.62,-0.16],[-0.68,1.29],
  [0.32,-1.61],[-1.66,0.33],[1.16,0.58],[-1.01,-1.49],[0.67,1.43],[-1.29,0.98],[1.53,0.76],[-0.47,-1.43],[0.94,-1.13],[-1.86,-0.34],
  [0.23,1.36],[-0.92,-1.16],[1.37,-0.56],[-1.51,1.12],[0.49,-1.27],[-0.19,1.58],[1.21,-1.19],[-1.68,-0.84],[0.83,1.14],[-1.34,0.61],
  [1.73,-0.23],[-0.76,1.47],[0.08,-1.68],[-1.58,-0.11],[1.06,0.94],[-0.59,-1.59],[1.29,0.04],[-1.17,1.39],[0.61,-1.55],[-1.78,0.78],
  [1.47,1.08],[-1.06,-0.93],[0.36,1.64],[-1.48,-1.18],[1.18,-0.72],[-0.31,-1.36],[1.61,0.33],[-1.71,1.02],[0.73,-1.04],[-0.89,1.08],
  [1.39,-1.09],[-1.37,-0.58],[-0.06,-1.52],[-0.66,-1.28],[1.01,-0.66],[-1.93,0.44],[0.51,1.37],[-1.26,-1.39],[1.24,0.46],[-0.42,1.46],
  [0.79,-1.36],[-1.61,-0.39],[1.52,-0.63],[-0.82,1.58],[0.12,1.54],[-1.44,0.76],[1.09,-0.92],[-1.12,0.81],[0.41,-1.48],[-1.77,-0.66],
  [1.34,0.35],[-0.54,-1.15],[0.87,1.38],[-1.31,-0.24],[1.66,-0.46],[-0.23,1.31],[0.26,-1.18],[-0.99,-1.64],[1.13,0.82],[-1.54,0.49]
];

const seriesPts = [
  hostsOuter.concat(hostsCore, hostsFill, hostsRing),
  chi2wOuter.concat(chi2wCore, chi2wFill, chi2wRing),
  hchi2wOuter.concat(hchi2wCore, hchi2wFill, hchi2wRing)
];

const W = 927, H = 379;
// pixel frames of the three plot boxes
const frames = [
  { left: 37,    right: 311.5, sub: 162, ylab: 14 },
  { left: 348,   right: 623,   sub: 463, ylab: 330 },
  { left: 659.5, right: 934.5, sub: 794, ylab: 640 }
];
const plotTop = 44, plotBottom = 319;

const svg = d3.select('#chart').append('svg')
    .attr('width', W)
    .attr('height', H);

frames.forEach((f, i) => {
    const x = d3.scaleLinear().domain([-4, 4]).range([f.left, f.right]);
    const y = d3.scaleLinear().domain([-4, 4]).range([plotBottom, plotTop]);
    const g = svg.append('g');

    // points
    g.append('g')
        .selectAll('circle')
        .data(seriesPts[i])
        .enter().append('circle')
        .attr('cx', d => x(d[0]))
        .attr('cy', d => y(d[1]))
        .attr('r', 1.25)
        .attr('fill', '#000');

    // frame
    g.append('rect')
        .attr('x', f.left)
        .attr('y', plotTop)
        .attr('width', f.right - f.left)
        .attr('height', plotBottom - plotTop)
        .attr('fill', 'none')
        .attr('stroke', '#000')
        .attr('stroke-width', 1.3);

    // inward ticks on all four sides
    const tickG = g.append('g').attr('stroke', '#000').attr('stroke-width', 1);
    const drawTicks = (vals, len) => {
        vals.forEach(v => {
            tickG.append('line').attr('x1', x(v)).attr('x2', x(v)).attr('y1', plotBottom).attr('y2', plotBottom - len);
            tickG.append('line').attr('x1', x(v)).attr('x2', x(v)).attr('y1', plotTop).attr('y2', plotTop + len);
            tickG.append('line').attr('y1', y(v)).attr('y2', y(v)).attr('x1', f.left).attr('x2', f.left + len);
            tickG.append('line').attr('y1', y(v)).attr('y2', y(v)).attr('x1', f.right).attr('x2', f.right - len);
        });
    };
    drawTicks(majorTicks.slice(1, -1), 7);
    drawTicks(minorTicks, 4);

    // tick labels (the last one of panel (c) falls outside the page)
    g.append('g').selectAll('text')
        .data(majorTicks.filter(d => x(d) < W - 4))
        .enter().append('text')
        .attr('x', d => x(d))
        .attr('y', 328)
        .attr('text-anchor', 'middle')
        .attr('font-size', '8.5px')
        .attr('fill', '#222')
        .text(d => d);

    g.append('g').selectAll('text')
        .data(majorTicks)
        .enter().append('text')
        .attr('x', f.left - 3)
        .attr('y', d => y(d) + 3)
        .attr('text-anchor', 'end')
        .attr('font-size', '8.5px')
        .attr('fill', '#222')
        .text(d => d);

    // axis labels
    g.append('text')
        .attr('x', x(0))
        .attr('y', 341)
        .attr('text-anchor', 'middle')
        .attr('font-size', '9px')
        .attr('fill', '#222')
        .text(xLabels[i]);

    g.append('text')
        .attr('transform', `translate(${f.ylab + 3},${y(0)}) rotate(-90)`)
        .attr('text-anchor', 'middle')
        .attr('font-size', '9px')
        .attr('fill', '#222')
        .text(yLabels[i]);

    // title
    g.append('text')
        .attr('x', x(0))
        .attr('y', 21)
        .attr('text-anchor', 'middle')
        .attr('font-size', '15px')
        .attr('fill', '#000')
        .text(titles[i]);

    // sub-figure label
    g.append('text')
        .attr('x', f.sub)
        .attr('y', 374)
        .attr('text-anchor', 'middle')
        .attr('font-size', '22px')
        .attr('fill', '#000')
        .text(subLabels[i]);
});
</script>
</body>
</html>
